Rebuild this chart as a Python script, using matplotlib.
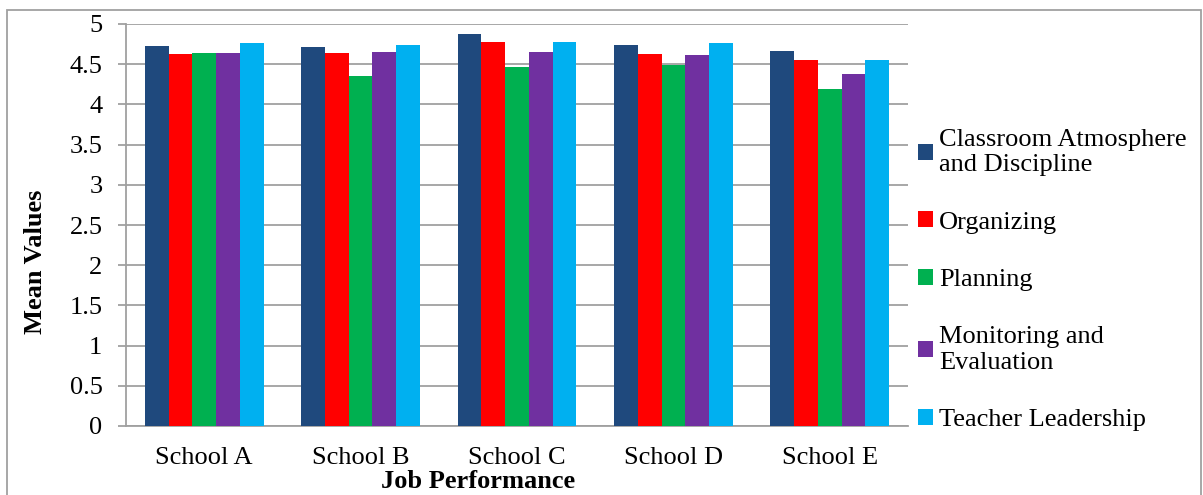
import numpy as np
import matplotlib.pyplot as plt
from matplotlib.patches import Rectangle

plt.rcParams['font.family'] = ['Liberation Serif', 'DejaVu Serif']

schools = ["School A", "School B", "School C", "School D", "School E"]
series_names = ["Classroom Atmosphere\nand Discipline", "Organizing", "Planning",
                "Monitoring and\nEvaluation", "Teacher Leadership"]
classroom = [4.73, 4.72, 4.87, 4.74, 4.66]
organizing = [4.63, 4.64, 4.78, 4.63, 4.55]
planning = [4.64, 4.35, 4.47, 4.49, 4.19]
monitoring = [4.64, 4.65, 4.65, 4.61, 4.38]
leadership = [4.76, 4.74, 4.77, 4.76, 4.55]
colors = ["#1F497D", "#FF0000", "#00B050", "#7030A0", "#00B0F0"]

values = [classroom, organizing, planning, monitoring, leadership]

W, H = 1203, 495
fs = 19
fig = plt.figure(figsize=(W / 100, H / 100), dpi=100)
ax = fig.add_axes([126 / W, 1 - 426 / H, (908 - 126) / W, (426 - 24) / H])

x = np.arange(len(schools))
bw = 0.152
for i, (vals, name, c) in enumerate(zip(values, series_names, colors)):
    ax.bar(x + (i - 2) * bw, vals, width=bw, color=c, label=name, zorder=3)

ax.set_xlim(-0.5, 4.5)
ax.set_ylim(0, 5)
ax.set_yticks(np.arange(0, 5.01, 0.5))
ax.set_yticklabels(["0", "0.5", "1", "1.5", "2", "2.5", "3", "3.5", "4", "4.5", "5"])
ax.set_xticks(x)
ax.set_xticklabels(schools)
ax.yaxis.grid(True, color="#A0A0A0", linewidth=1.3, zorder=0)
ax.tick_params(axis='y', labelsize=fs, length=6, width=1.3, color="#A0A0A0", pad=11)
ax.tick_params(axis='x', labelsize=fs, length=0, pad=15)
for s in ["top", "right"]:
    ax.spines[s].set_visible(False)
for s in ["left", "bottom"]:
    ax.spines[s].set_color("#A0A0A0")
    ax.spines[s].set_linewidth(1.3)

fig.text(478 / W, 1 - 488 / H, "Job Performance", ha="center", va="baseline",
         fontsize=fs, fontweight="bold")
fig.text(36 / W, 1 - 262 / H, "Mean Values", ha="center", va="center",
         rotation=90, fontsize=fs, fontweight="bold")

leg = ax.legend(loc="center left", bbox_to_anchor=(918 / W, 1 - 280 / H),
                bbox_transform=fig.transFigure, frameon=False, fontsize=fs,
                handlelength=0.55, handleheight=0.55, handletextpad=0.25,
                labelspacing=1.33, borderaxespad=0, borderpad=0)
for t in leg.get_texts():
    t.set_linespacing(1.2)

fig.patches.append(Rectangle((7 / W, -0.05), (1201 - 7) / W, 1.05 - 10 / H,
                             transform=fig.transFigure, fill=False,
                             edgecolor="#A0A0A0", linewidth=1.3))

fig.savefig("out.png", dpi=100)
